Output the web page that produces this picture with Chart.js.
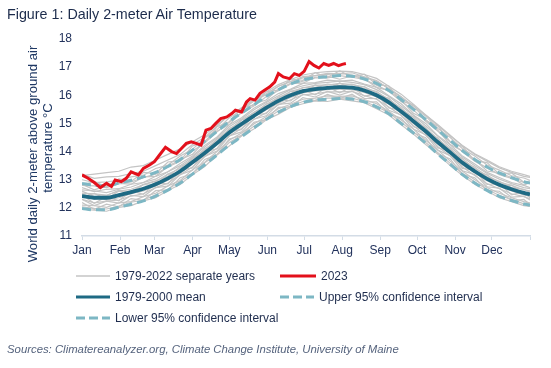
<!DOCTYPE html>
<html>
<head>
<meta charset="utf-8">
<script src="https://cdn.jsdelivr.net/npm/chart.js@4.4.0/dist/chart.umd.min.js"></script>
<style>
  body { margin: 0; background: #fff; font-family: "Liberation Sans", Arial, sans-serif; }
  #page { position: relative; width: 551px; height: 368px; overflow: hidden; }
  #chart { position: absolute; left: 0; top: 0; }
  .title { position: absolute; left: 7px; top: 6px; font-size: 14.3px; color: #1d2c4c; white-space: nowrap; }
  .lg { position: absolute; font-size: 12px; color: #1f2d4e; white-space: nowrap; display: flex; align-items: center; height: 16px; }
  .lg svg { margin-right: 5px; }
  .source { position: absolute; left: 7px; top: 343px; font-size: 11.35px; font-style: italic; color: #55637d; white-space: nowrap; }
</style>
</head>
<body>
<div id="page">
  <canvas id="chart" width="551" height="368"></canvas>
  <div class="title">Figure 1: Daily 2-meter Air Temperature</div>

  <div class="lg" style="left:76px; top:268px;">
    <svg width="34" height="6"><line x1="0" y1="3" x2="34" y2="3" stroke="#c4c4c4" stroke-width="1.5"/></svg>1979-2022 separate years
  </div>
  <div class="lg" style="left:280px; top:268px;">
    <svg width="36" height="6"><line x1="0" y1="3" x2="36" y2="3" stroke="#e3101b" stroke-width="3"/></svg>2023
  </div>
  <div class="lg" style="left:76px; top:289px;">
    <svg width="34" height="6"><line x1="0" y1="3" x2="34" y2="3" stroke="#1e6a84" stroke-width="3"/></svg>1979-2000 mean
  </div>
  <div class="lg" style="left:280px; top:289px;">
    <svg width="34" height="6"><line x1="0" y1="3" x2="34" y2="3" stroke="#7db7c4" stroke-width="3" stroke-dasharray="9,4"/></svg>Upper 95% confidence interval
  </div>
  <div class="lg" style="left:76px; top:310px;">
    <svg width="34" height="6"><line x1="0" y1="3" x2="34" y2="3" stroke="#7db7c4" stroke-width="3" stroke-dasharray="9,4"/></svg>Lower 95% confidence interval
  </div>

  <div class="source">Sources: Climatereanalyzer.org, Climate Change Institute, University of Maine</div>
</div>

<script>
// month starts (day of year) and labels for the x axis
const monthDays = [0, 31, 59, 90, 120, 151, 181, 212, 243, 273, 304, 334, 365];
const monthLabels = ['Jan', 'Feb', 'Mar', 'Apr', 'May', 'Jun', 'Jul', 'Aug', 'Sep', 'Oct', 'Nov', 'Dec', ''];
const yTitleLines = ['World daily 2-meter above ground air', 'temperature °C'];

// sample days for the climatology series
const days = [0, 10, 20, 30, 40, 50, 60, 70, 80, 90, 100, 110, 120, 130, 140, 150, 160, 170, 180,
  190, 200, 210, 220, 230, 240, 250, 260, 270, 280, 290, 300, 310, 320, 330, 340, 350, 360, 365];

const mean = [12.42, 12.36, 12.36, 12.45, 12.56, 12.68, 12.84, 13.05, 13.30, 13.62, 13.95, 14.30, 14.68,
  14.98, 15.27, 15.55, 15.80, 16.00, 16.15, 16.22, 16.26, 16.29, 16.27, 16.17, 16.00, 15.75, 15.42,
  15.08, 14.72, 14.33, 13.97, 13.60, 13.30, 13.03, 12.82, 12.66, 12.53, 12.48];

const upper = [12.87, 12.80, 12.78, 12.88, 12.98, 13.10, 13.26, 13.47, 13.72, 14.05, 14.37, 14.72, 15.07,
  15.37, 15.66, 15.96, 16.20, 16.40, 16.55, 16.62, 16.66, 16.70, 16.68, 16.58, 16.42, 16.17, 15.85,
  15.50, 15.14, 14.76, 14.40, 14.03, 13.72, 13.45, 13.24, 13.07, 12.93, 12.88];

const lower = [11.98, 11.93, 11.93, 12.02, 12.13, 12.25, 12.42, 12.63, 12.88, 13.20, 13.53, 13.88, 14.23,
  14.53, 14.84, 15.14, 15.40, 15.60, 15.75, 15.83, 15.86, 15.89, 15.87, 15.77, 15.59, 15.34, 15.00,
  14.66, 14.30, 13.91, 13.55, 13.18, 12.88, 12.62, 12.41, 12.26, 12.14, 12.10];

// individual years 1979-2022 (a selection)
const separateYears = [
  [11.95, 11.92, 11.88, 12.02, 12.08, 12.25, 12.36, 12.62, 12.83, 13.18, 13.47, 13.88, 14.20, 14.55, 14.80, 15.12, 15.33, 15.58, 15.70, 15.80, 15.78, 15.86, 15.80, 15.74, 15.52, 15.30, 14.95, 14.62, 14.25, 13.90, 13.50, 13.15, 12.84, 12.60, 12.36, 12.22, 12.08, 12.05],
  [12.10, 12.08, 12.02, 12.18, 12.22, 12.40, 12.52, 12.78, 12.97, 13.35, 13.62, 14.00, 14.40, 14.66, 14.98, 15.24, 15.52, 15.68, 15.86, 15.90, 15.98, 15.96, 15.98, 15.85, 15.70, 15.43, 15.12, 14.80, 14.40, 14.05, 13.66, 13.30, 13.00, 12.72, 12.52, 12.36, 12.22, 12.18],
  [12.30, 12.18, 12.24, 12.28, 12.42, 12.50, 12.72, 12.88, 13.18, 13.45, 13.82, 14.12, 14.55, 14.82, 15.14, 15.38, 15.66, 15.84, 16.02, 16.05, 16.12, 16.12, 16.14, 15.99, 15.86, 15.58, 15.28, 14.92, 14.58, 14.17, 13.84, 13.45, 13.15, 12.86, 12.68, 12.50, 12.40, 12.32],
  [12.50, 12.30, 12.42, 12.40, 12.60, 12.64, 12.90, 13.00, 13.36, 13.58, 14.00, 14.26, 14.72, 14.94, 15.32, 15.50, 15.84, 15.96, 16.20, 16.18, 16.30, 16.24, 16.32, 16.12, 16.04, 15.70, 15.46, 15.04, 14.76, 14.30, 14.00, 13.56, 13.34, 13.00, 12.86, 12.62, 12.56, 12.46],
  [12.52, 12.50, 12.45, 12.60, 12.66, 12.82, 12.94, 13.20, 13.40, 13.76, 14.05, 14.44, 14.78, 15.12, 15.38, 15.68, 15.90, 16.14, 16.26, 16.36, 16.36, 16.42, 16.38, 16.30, 16.10, 15.88, 15.52, 15.22, 14.82, 14.46, 14.08, 13.74, 13.40, 13.16, 12.92, 12.80, 12.64, 12.60],
  [12.72, 12.58, 12.66, 12.68, 12.84, 12.90, 13.12, 13.28, 13.58, 13.84, 14.22, 14.52, 14.95, 15.20, 15.54, 15.78, 16.06, 16.22, 16.42, 16.45, 16.54, 16.50, 16.54, 16.40, 16.28, 15.98, 15.70, 15.30, 15.00, 14.56, 14.24, 13.84, 13.56, 13.26, 13.08, 12.90, 12.80, 12.72],
  [12.80, 12.78, 12.72, 12.86, 12.92, 13.08, 13.20, 13.45, 13.66, 14.02, 14.30, 14.70, 15.04, 15.38, 15.62, 15.95, 16.16, 16.40, 16.50, 16.62, 16.62, 16.70, 16.64, 16.56, 16.36, 16.14, 15.78, 15.48, 15.08, 14.72, 14.34, 14.00, 13.66, 13.42, 13.18, 13.05, 12.90, 12.86],
  [13.00, 12.90, 12.92, 12.98, 13.10, 13.16, 13.40, 13.52, 13.84, 14.08, 14.48, 14.78, 15.20, 15.46, 15.80, 16.02, 16.32, 16.48, 16.66, 16.70, 16.78, 16.76, 16.80, 16.66, 16.52, 16.22, 15.95, 15.56, 15.26, 14.82, 14.50, 14.10, 13.84, 13.52, 13.34, 13.14, 13.06, 12.98],
  [13.20, 13.05, 13.10, 13.12, 13.22, 13.30, 13.50, 13.70, 13.90, 14.25, 14.50, 14.90, 15.30, 15.55, 15.85, 16.12, 16.38, 16.56, 16.72, 16.80, 16.84, 16.86, 16.84, 16.74, 16.60, 16.32, 16.04, 15.68, 15.30, 14.95, 14.58, 14.20, 13.90, 13.66, 13.42, 13.26, 13.12, 13.08],
  [12.38, 12.40, 12.28, 12.36, 12.50, 12.60, 12.78, 12.98, 13.22, 13.56, 13.86, 14.24, 14.62, 14.90, 15.22, 15.48, 15.72, 15.92, 16.08, 16.16, 16.20, 16.22, 16.20, 16.10, 15.94, 15.68, 15.36, 15.00, 14.66, 14.26, 13.92, 13.52, 13.24, 12.96, 12.76, 12.60, 12.46, 12.42],
  [12.04, 11.98, 11.96, 12.06, 12.20, 12.28, 12.46, 12.66, 12.94, 13.22, 13.60, 13.90, 14.32, 14.58, 14.90, 15.16, 15.44, 15.62, 15.78, 15.82, 15.90, 15.90, 15.90, 15.78, 15.60, 15.38, 15.04, 14.70, 14.32, 13.96, 13.58, 13.22, 12.92, 12.66, 12.44, 12.30, 12.14, 12.10],
  [12.64, 12.60, 12.54, 12.66, 12.74, 12.90, 13.02, 13.28, 13.50, 13.80, 14.16, 14.48, 14.88, 15.16, 15.48, 15.74, 15.98, 16.20, 16.34, 16.42, 16.46, 16.50, 16.46, 16.38, 16.20, 15.96, 15.62, 15.28, 14.92, 14.54, 14.16, 13.80, 13.50, 13.22, 13.02, 12.86, 12.72, 12.68],
  [12.30, 12.08, 12.24, 12.17, 12.44, 12.40, 12.72, 12.77, 13.18, 13.34, 13.83, 14.02, 14.56, 14.70, 15.15, 15.27, 15.68, 15.72, 16.03, 15.94, 16.14, 16.01, 16.15, 15.89, 15.88, 15.47, 15.30, 14.80, 14.60, 14.05, 13.85, 13.32, 13.18, 12.75, 12.70, 12.38, 12.41, 12.28],
  [12.37, 12.51, 12.31, 12.60, 12.51, 12.83, 12.79, 13.20, 13.25, 13.77, 13.90, 14.45, 14.63, 15.13, 15.22, 15.70, 15.75, 16.15, 16.10, 16.37, 16.21, 16.44, 16.22, 16.32, 15.95, 15.90, 15.37, 15.23, 14.67, 14.48, 13.92, 13.75, 13.25, 13.18, 12.77, 12.81, 12.48, 12.53],
  [12.84, 12.64, 12.78, 12.87, 12.84, 13.10, 13.12, 13.47, 13.72, 13.90, 14.37, 14.72, 14.96, 15.40, 15.69, 15.83, 16.22, 16.42, 16.43, 16.64, 16.68, 16.57, 16.69, 16.59, 16.28, 16.17, 15.84, 15.36, 15.14, 14.75, 14.25, 14.02, 13.72, 13.31, 13.24, 13.08, 12.81, 12.90],
  [12.19, 11.95, 12.13, 12.04, 12.33, 12.27, 12.61, 12.64, 13.07, 13.21, 13.72, 13.89, 14.45, 14.57, 15.04, 15.14, 15.57, 15.59, 15.92, 15.81, 16.03, 15.88, 16.04, 15.76, 15.77, 15.34, 15.19, 14.67, 14.49, 13.92, 13.74, 13.19, 13.07, 12.62, 12.59, 12.25, 12.30, 12.12],
  [12.80, 12.94, 12.74, 13.03, 12.94, 13.26, 13.22, 13.63, 13.68, 14.20, 14.33, 14.88, 15.06, 15.56, 15.65, 16.13, 16.18, 16.58, 16.53, 16.80, 16.64, 16.87, 16.65, 16.75, 16.38, 16.33, 15.80, 15.66, 15.10, 14.91, 14.35, 14.18, 13.68, 13.61, 13.20, 13.24, 12.91, 12.96],
  [12.60, 12.40, 12.44, 12.62, 12.58, 12.84, 12.96, 13.12, 13.46, 13.70, 14.10, 14.36, 14.82, 15.04, 15.40, 15.62, 15.94, 16.06, 16.28, 16.28, 16.40, 16.34, 16.40, 16.24, 16.14, 15.82, 15.56, 15.14, 14.86, 14.40, 14.10, 13.66, 13.44, 13.10, 12.94, 12.72, 12.66, 12.56],
  [12.46, 12.16, 12.40, 12.25, 12.60, 12.48, 12.88, 12.85, 13.34, 13.42, 13.99, 14.10, 14.72, 14.78, 15.31, 15.35, 15.84, 15.80, 16.19, 16.02, 16.30, 16.09, 16.31, 15.97, 16.04, 15.55, 15.46, 14.88, 14.76, 14.13, 14.01, 13.40, 13.34, 12.83, 12.86, 12.46, 12.57, 12.36],
  [13.15, 13.20, 13.25, 13.30, 13.45, 13.50, 13.70, 13.90, 14.10, 14.35, 14.60, 14.95, 15.30, 15.52, 15.82, 16.05, 16.32, 16.50, 16.62, 16.70, 16.74, 16.78, 16.72, 16.64, 16.50, 16.25, 15.95, 15.62, 15.30, 14.92, 14.55, 14.22, 13.92, 13.70, 13.46, 13.30, 13.18, 13.12]
];

// 2023 (through early August)
const days2023 = [0, 5, 10, 15, 20, 24, 27, 32, 36, 40, 46, 50, 55, 59, 63, 68, 73, 77, 81, 85,
  89, 93, 97, 101, 105, 109, 113, 118, 122, 125, 130, 134, 137, 141, 145, 149, 153, 157, 160, 164,
  169, 173, 177, 181, 185, 189, 193, 197, 201, 205, 209, 212, 215];
const temp2023 = [13.17, 13.05, 12.90, 12.72, 12.87, 12.76, 12.99, 12.93, 13.05, 13.28, 13.17, 13.40,
  13.52, 13.64, 13.87, 14.15, 14.00, 13.93, 14.11, 14.29, 14.35, 14.29, 14.23, 14.76, 14.82, 15.00,
  15.17, 15.23, 15.35, 15.47, 15.41, 15.76, 15.88, 15.83, 16.07, 16.19, 16.30, 16.47, 16.77, 16.65,
  16.59, 16.77, 16.71, 16.85, 17.20, 17.06, 16.97, 17.13, 17.06, 17.13, 17.05, 17.10, 17.13];

const toPoints = (xs, ys) => xs.map((x, i) => ({ x: x, y: ys[i] }));

const fontFamily = '"Liberation Sans", Arial, sans-serif';
const tickColor = '#22325c';
const axisColor = '#d3dce6';

const datasets = [
  {
    label: '2023',
    data: toPoints(days2023, temp2023),
    borderColor: '#e3101b',
    borderWidth: 3,
    order: 0
  },
  {
    label: '1979-2000 mean',
    data: toPoints(days, mean),
    borderColor: '#1e6a84',
    borderWidth: 3.8,
    cubicInterpolationMode: 'monotone',
    order: 1
  },
  {
    label: 'Upper 95% confidence interval',
    data: toPoints(days, upper),
    borderColor: '#7db7c4',
    borderWidth: 3,
    borderDash: [9, 5],
    cubicInterpolationMode: 'monotone',
    order: 2
  },
  {
    label: 'Lower 95% confidence interval',
    data: toPoints(days, lower),
    borderColor: '#7db7c4',
    borderWidth: 3,
    borderDash: [9, 5],
    cubicInterpolationMode: 'monotone',
    order: 2
  }
];

separateYears.forEach((vals) => {
  datasets.push({
    label: '1979-2022 separate years',
    data: toPoints(days, vals),
    borderColor: '#c4c4c4',
    borderWidth: 1.2,
    order: 3
  });
});

// rotated two-line y axis title
const yTitlePlugin = {
  id: 'yTitle',
  afterDraw(chart) {
    const ctx = chart.ctx;
    const centers = [[33, 154], [48, 148]];
    ctx.save();
    ctx.fillStyle = '#1f3864';
    ctx.font = '13.2px ' + fontFamily;
    ctx.textAlign = 'center';
    ctx.textBaseline = 'middle';
    yTitleLines.forEach((line, i) => {
      ctx.save();
      ctx.translate(centers[i][0], centers[i][1]);
      ctx.rotate(-Math.PI / 2);
      ctx.fillText(line, 0, 0);
      ctx.restore();
    });
    ctx.restore();
  }
};

new Chart(document.getElementById('chart'), {
  type: 'line',
  data: { datasets: datasets },
  options: {
    responsive: false,
    animation: false,
    layout: { padding: { left: 0, right: 21, top: 39, bottom: 102 } },
    elements: { point: { radius: 0 }, line: { tension: 0, fill: false } },
    plugins: {
      legend: { display: false },
      tooltip: { enabled: false }
    },
    scales: {
      x: {
        type: 'linear',
        min: 0,
        max: 365,
        afterBuildTicks: (axis) => { axis.ticks = monthDays.map(v => ({ value: v })); },
        afterFit: (axis) => { axis.height = 30; },
        ticks: {
          autoSkip: false,
          maxRotation: 0,
          padding: 3,
          color: tickColor,
          font: { size: 12, family: fontFamily },
          callback: (v) => monthLabels[monthDays.indexOf(v)] || ''
        },
        grid: { drawOnChartArea: false, drawTicks: true, tickLength: 4, color: axisColor },
        border: { display: true, color: axisColor, width: 1.5 }
      },
      y: {
        min: 11,
        max: 18,
        afterFit: (axis) => { axis.width = 82; },
        ticks: {
          stepSize: 1,
          padding: 10,
          color: tickColor,
          font: { size: 12, family: fontFamily }
        },
        grid: { display: false, drawTicks: false },
        border: { display: false }
      }
    }
  },
  plugins: [yTitlePlugin]
});
</script>
</body>
</html>
